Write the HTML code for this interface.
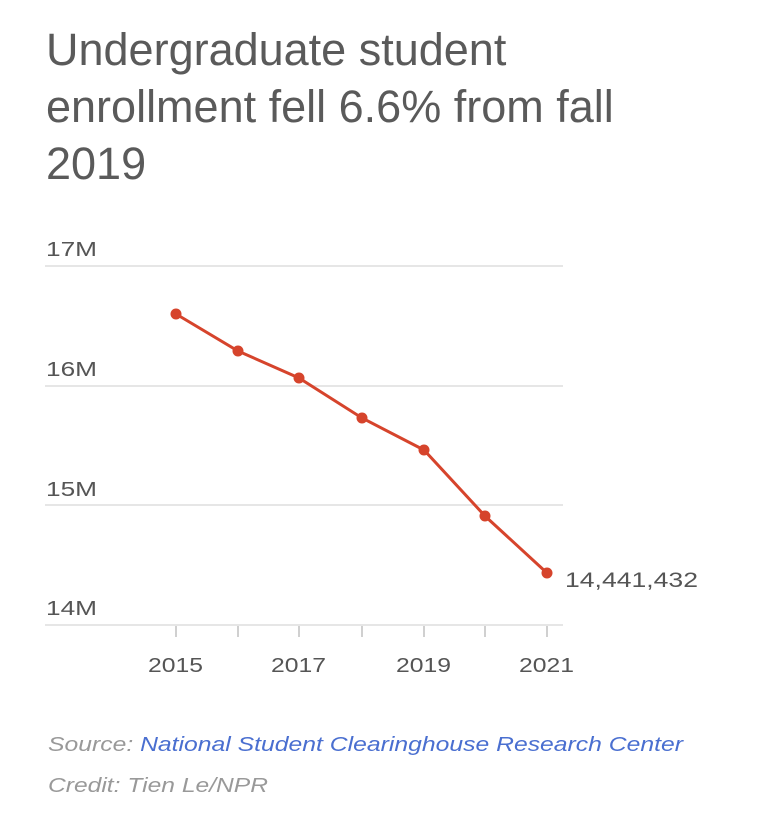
<!DOCTYPE html>
<html><head><style>
body{margin:0;background:#fff;width:766px;height:834px;overflow:hidden;font-family:"Liberation Sans",sans-serif;}
.t{position:absolute;left:46px;top:21px;font-size:45px;line-height:57px;color:#5a5a5a;}
</style></head><body>
<div class="t">Undergraduate student<br>enrollment fell 6.6% from fall<br>2019</div>
<svg width="766" height="834" style="position:absolute;left:0;top:0">
<g stroke="#e6e6e6" stroke-width="2">
<line x1="45" y1="266" x2="563" y2="266"/><line x1="45" y1="386" x2="563" y2="386"/>
<line x1="45" y1="505" x2="563" y2="505"/><line x1="45" y1="625" x2="563" y2="625"/>
</g>
<g stroke="#d0d0d0" stroke-width="2">
<line x1="176" y1="626" x2="176" y2="637"/><line x1="238" y1="626" x2="238" y2="637"/>
<line x1="299" y1="626" x2="299" y2="637"/><line x1="362" y1="626" x2="362" y2="637"/>
<line x1="424" y1="626" x2="424" y2="637"/><line x1="485" y1="626" x2="485" y2="637"/>
<line x1="547" y1="626" x2="547" y2="637"/>
</g>
<g font-size="20" fill="#555" lengthAdjust="spacingAndGlyphs">
<text x="46" y="256" textLength="51" lengthAdjust="spacingAndGlyphs">17M</text><text x="46" y="376" textLength="51" lengthAdjust="spacingAndGlyphs">16M</text>
<text x="46" y="496" textLength="51" lengthAdjust="spacingAndGlyphs">15M</text><text x="46" y="615" textLength="51" lengthAdjust="spacingAndGlyphs">14M</text>
<text x="148" y="672" textLength="55" lengthAdjust="spacingAndGlyphs">2015</text><text x="271" y="672" textLength="55" lengthAdjust="spacingAndGlyphs">2017</text><text x="396" y="672" textLength="55" lengthAdjust="spacingAndGlyphs">2019</text><text x="519" y="672" textLength="55" lengthAdjust="spacingAndGlyphs">2021</text>
<text x="565" y="587" font-size="21" textLength="133" lengthAdjust="spacingAndGlyphs">14,441,432</text>
</g>
<polyline fill="none" stroke="#d6442c" stroke-width="3" points="176,314 238,351 299,378 362,418 424,450 485,516 547,573"/>
<g fill="#d6442c"><circle cx="176" cy="314" r="5.5"/><circle cx="238" cy="351" r="5.5"/><circle cx="299" cy="378" r="5.5"/><circle cx="362" cy="418" r="5.5"/><circle cx="424" cy="450" r="5.5"/><circle cx="485" cy="516" r="5.5"/><circle cx="547" cy="573" r="5.5"/></g>
<g font-size="20" font-style="italic">
<text x="48" y="751" fill="#999" textLength="635" lengthAdjust="spacingAndGlyphs">Source: <tspan fill="#4a6fd0">National Student Clearinghouse Research Center</tspan></text>
<text x="48" y="792" fill="#999" textLength="220" lengthAdjust="spacingAndGlyphs">Credit: Tien Le/NPR</text>
</g>
</svg>
</body></html>
